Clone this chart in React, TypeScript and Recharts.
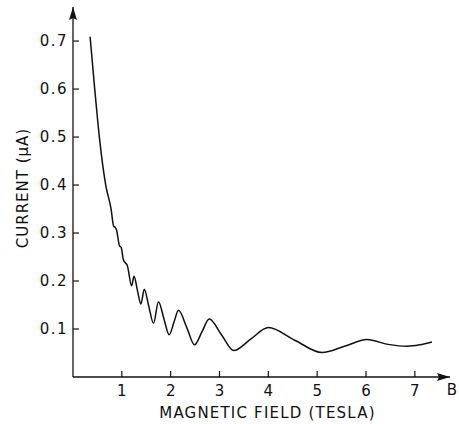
import React from 'react';
import { LineChart, Line, XAxis, YAxis, Label } from 'recharts';

// Magnetic field (tesla)
const fieldB = [
  0.35, 0.445, 0.54, 0.67, 0.78, 0.83, 0.86, 0.89, 0.95, 0.99, 1.03, 1.07, 1.11,
  1.2, 1.25, 1.32, 1.39, 1.46, 1.55, 1.65, 1.75, 1.86, 1.97, 2.07, 2.16, 2.33, 2.49,
  2.64, 2.79, 3.04, 3.29, 3.65, 4.0, 4.55, 5.1, 5.56, 6.02, 6.45, 6.84, 7.1, 7.35,
];
// Current (µA)
const current = [
  0.709, 0.6, 0.5, 0.4, 0.35, 0.315, 0.312, 0.307, 0.274, 0.269, 0.245, 0.238, 0.233,
  0.19, 0.21, 0.18, 0.152, 0.183, 0.148, 0.112, 0.157, 0.122, 0.088, 0.115, 0.139, 0.103, 0.067,
  0.094, 0.121, 0.088, 0.055, 0.08, 0.103, 0.076, 0.051, 0.064, 0.078, 0.068, 0.064, 0.067, 0.073,
];
const xTicks = [1, 2, 3, 4, 5, 6, 7];
const yTicks = [0.1, 0.2, 0.3, 0.4, 0.5, 0.6, 0.7];

const data = fieldB.map((b, i) => ({ b, i: current[i] }));

const FONT = '"DejaVu Sans", sans-serif';

const YTick = (props: any) => {
  const { x, y, payload } = props;
  return (
    <g>
      <line x1={x} y1={y} x2={x + 6} y2={y} stroke="#111" strokeWidth={1.2} />
      <text x={x - 5} y={y + 5} textAnchor="end" fontFamily={FONT} fontSize={15} letterSpacing={1.5} fill="#111">
        {payload.value}
      </text>
    </g>
  );
};

const XTick = (props: any) => {
  const { x, y, payload } = props;
  return (
    <g>
      <line x1={x} y1={y} x2={x} y2={y - 6} stroke="#111" strokeWidth={1.2} />
      <text x={x} y={y + 18.5} textAnchor="middle" fontFamily={FONT} fontSize={15} fill="#111">
        {payload.value}
      </text>
    </g>
  );
};

export default function App() {
  return (
    <div style={{ position: 'absolute', left: 0, top: 0, width: 459, height: 424, background: '#fff' }}>
      <svg width={0} height={0} style={{ position: 'absolute' }}>
        <defs>
          <marker id="arrowHead" viewBox="0 0 13 8" refX={13} refY={4} markerWidth={13} markerHeight={8}
            markerUnits="userSpaceOnUse" orient="auto-start-reverse">
            <path d="M0,0 L13,4 L0,8 L2,4 z" fill="#111" />
          </marker>
        </defs>
      </svg>
      <LineChart width={459} height={424} data={data} margin={{ top: 7, right: 9, bottom: 0, left: 0 }}>
        <XAxis
          dataKey="b"
          type="number"
          domain={[0, 7.72]}
          ticks={xTicks}
          allowDataOverflow
          height={47}
          tickLine={false}
          tickSize={0}
          tickMargin={0}
          tick={<XTick />}
          axisLine={{ stroke: '#111', strokeWidth: 1.3, markerEnd: 'url(#arrowHead)' } as any}
        >
          <Label
            content={(p: any) => {
              const vb = p.viewBox;
              return (
                <g>
                  <text x={vb.x + vb.width / 2 + 6} y={vb.y + 41} textAnchor="middle" fontFamily={FONT}
                    fontSize={15} letterSpacing={1.2} fill="#111">MAGNETIC FIELD (TESLA)</text>
                  <text x={vb.x + vb.width + 2} y={vb.y + 17.5} textAnchor="middle" fontFamily={FONT}
                    fontSize={15} fill="#111">B</text>
                </g>
              );
            }}
          />
        </XAxis>
        <YAxis
          type="number"
          domain={[0, 0.771]}
          ticks={yTicks}
          allowDataOverflow
          width={73}
          tickLine={false}
          tickSize={0}
          tickMargin={0}
          tick={<YTick />}
          axisLine={{ stroke: '#111', strokeWidth: 1.3, markerStart: 'url(#arrowHead)' } as any}
        >
          <Label
            content={(p: any) => {
              const vb = p.viewBox;
              const cx = vb.x + 23;
              const cy = vb.y + vb.height / 2 - 4;
              return (
                <text x={cx} y={cy} transform={`rotate(-90 ${cx} ${cy})`} textAnchor="middle"
                  dominantBaseline="central" fontFamily={FONT} fontSize={15} letterSpacing={1} fill="#111">
                  CURRENT (μA)
                </text>
              );
            }}
          />
        </YAxis>
        <Line
          type="monotone"
          dataKey="i"
          stroke="#111"
          strokeWidth={1.5}
          dot={false}
          isAnimationActive={false}
        />
      </LineChart>
    </div>
  );
}
